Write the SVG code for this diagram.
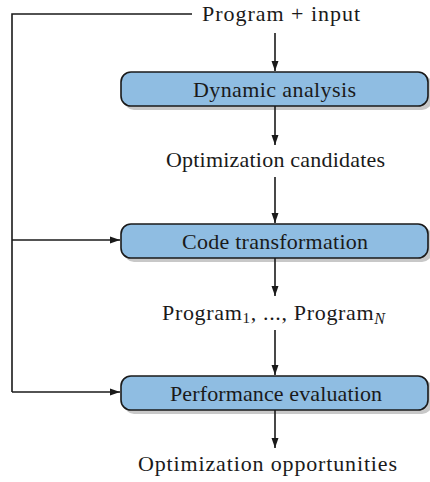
<svg xmlns="http://www.w3.org/2000/svg" width="430" height="482" viewBox="0 0 430 482">
<defs>
<style>
text{font-family:"Liberation Serif","Times New Roman",serif;font-size:22px;fill:#1a1a1a}
.box{fill:#8fbde2;stroke:#1a1a1a;stroke-width:1.6}
.shadow{fill:#c8c8c8}
.line{fill:none;stroke:#1a1a1a;stroke-width:1.6}
</style>
<marker id="ah" viewBox="0 0 10 10" refX="10" refY="5" markerWidth="10" markerHeight="10" markerUnits="userSpaceOnUse" orient="auto">
<path d="M0,1.5 L10,5 L0,8.5 Z" fill="#1a1a1a"/>
</marker>
</defs>
<g id="input"><text x="202" y="21" textLength="158" lengthAdjust="spacing">Program + input</text></g>
<g id="dynamic">
<rect class="shadow" x="124" y="75" width="308" height="35" rx="10"/>
<rect class="box" x="121" y="72" width="307" height="34" rx="10"/>
<text x="193" y="97" textLength="163" lengthAdjust="spacing">Dynamic analysis</text>
</g>
<g id="candidates"><text x="166" y="167" textLength="219" lengthAdjust="spacing">Optimization candidates</text></g>
<g id="transform">
<rect class="shadow" x="124" y="227" width="308" height="35" rx="10"/>
<rect class="box" x="121" y="224" width="307" height="34" rx="10"/>
<text x="182" y="249" textLength="186" lengthAdjust="spacing">Code transformation</text>
</g>
<g id="programs"><text x="162" y="320" textLength="223" lengthAdjust="spacing">Program<tspan font-size="15" dy="3">1</tspan><tspan dy="-3">, ..., Program</tspan><tspan font-size="16" font-style="italic" dy="4">N</tspan></text></g>
<g id="perf">
<rect class="shadow" x="124" y="379" width="308" height="35" rx="10"/>
<rect class="box" x="121" y="376" width="307" height="34" rx="10"/>
<text x="170" y="401" textLength="212" lengthAdjust="spacing">Performance evaluation</text>
</g>
<g id="output"><text x="138" y="471" textLength="259" lengthAdjust="spacing">Optimization opportunities</text></g>
<g id="connectors">
<polyline class="line" points="192,14 12,14 12,392"/>
<line class="line" x1="12" y1="240" x2="120" y2="240" marker-end="url(#ah)"/>
<line class="line" x1="12" y1="392" x2="120" y2="392" marker-end="url(#ah)"/>
<line class="line" x1="275" y1="33" x2="275" y2="71" marker-end="url(#ah)"/>
<line class="line" x1="275" y1="106" x2="275" y2="145" marker-end="url(#ah)"/>
<line class="line" x1="275" y1="177" x2="275" y2="223" marker-end="url(#ah)"/>
<line class="line" x1="275" y1="258" x2="275" y2="296" marker-end="url(#ah)"/>
<line class="line" x1="275" y1="330" x2="275" y2="375" marker-end="url(#ah)"/>
<line class="line" x1="275" y1="410" x2="275" y2="448" marker-end="url(#ah)"/>
</g>
</svg>
